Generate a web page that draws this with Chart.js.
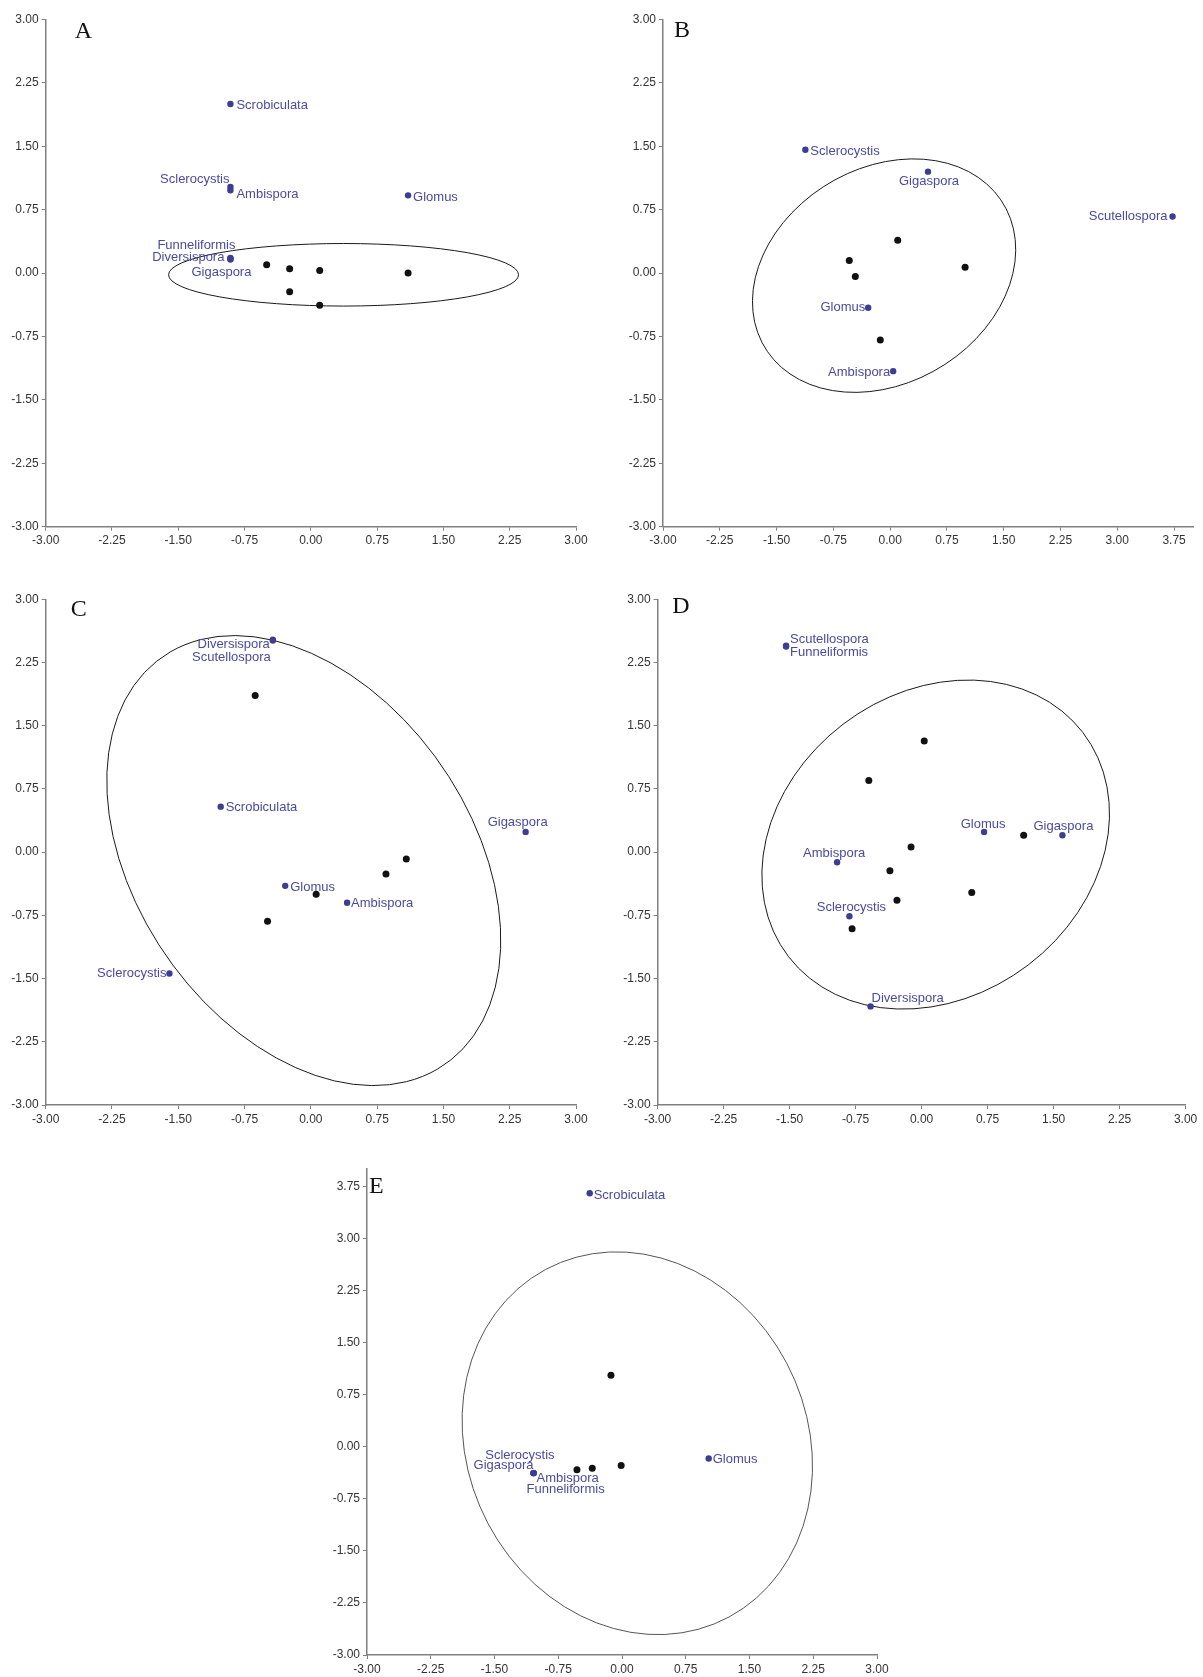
<!DOCTYPE html>
<html>
<head>
<meta charset="utf-8">
<script src="https://cdn.jsdelivr.net/npm/chart.js@4.4.1/dist/chart.umd.min.js"></script>
<style>
  body { margin: 0; background: #fff; }
  #page { position: relative; width: 1203px; height: 1677px; overflow: hidden; }
  canvas { position: absolute; }
</style>
</head>
<body>
<div id="page">
  <canvas id="panelA" width="600" height="570" style="left:0px;top:0px"></canvas>
  <canvas id="panelB" width="603" height="570" style="left:600px;top:0px"></canvas>
  <canvas id="panelC" width="600" height="570" style="left:0px;top:580px"></canvas>
  <canvas id="panelD" width="603" height="570" style="left:600px;top:580px"></canvas>
  <canvas id="panelE" width="600" height="527" style="left:300px;top:1150px"></canvas>
</div>
<script>
// --- tick labels ---
const ticksToThree = [-3, -2.25, -1.5, -0.75, 0, 0.75, 1.5, 2.25, 3];
const ticksToFour = [-3, -2.25, -1.5, -0.75, 0, 0.75, 1.5, 2.25, 3, 3.75];

// --- A ---
const aSiteX = [-0.50, -0.24, 0.10, 1.10, -0.24, 0.10];
const aSiteY = [0.10, 0.05, 0.03, 0.00, -0.22, -0.38];
const aGenus = ['Scrobiculata', 'Sclerocystis', 'Ambispora', 'Glomus', 'Funneliformis', 'Diversispora', 'Gigaspora'];
const aGenusX = [-0.91, -0.91, -0.91, 1.10, -0.91, -0.91, -0.91];
const aGenusY = [2.00, 1.02, 0.98, 0.92, 0.18, 0.17, 0.16];
const aEllipse = [0.37, -0.02, 1.98, 0.37, 0]; // centre x, centre y, semi-axis a, semi-axis b, angle (deg)

// --- B ---
const bSiteX = [0.10, -0.54, -0.46, 0.99, -0.13];
const bSiteY = [0.39, 0.15, -0.04, 0.07, -0.79];
const bGenus = ['Sclerocystis', 'Gigaspora', 'Scutellospora', 'Glomus', 'Ambispora'];
const bGenusX = [-1.12, 0.50, 3.73, -0.29, 0.04];
const bGenusY = [1.46, 1.20, 0.67, -0.41, -1.16];
const bEllipse = [-0.08, -0.03, 1.80, 1.30, 22];

// --- C ---
const cSiteX = [-0.63, 1.08, 0.85, 0.06, -0.49];
const cSiteY = [1.86, -0.08, -0.26, -0.50, -0.82];
const cGenus = ['Diversispora', 'Scutellospora', 'Scrobiculata', 'Gigaspora', 'Glomus', 'Ambispora', 'Sclerocystis'];
const cGenusX = [-0.43, -0.43, -1.02, 2.43, -0.29, 0.41, -1.60];
const cGenusY = [2.52, 2.51, 0.54, 0.24, -0.40, -0.60, -1.44];
const cEllipse = [-0.08, -0.10, 2.90, 1.92, -58.6];

// --- D ---
const dSiteX = [0.03, -0.60, -0.12, -0.36, 1.16, 0.57, -0.28, -0.79];
const dSiteY = [1.32, 0.85, 0.06, -0.22, 0.20, -0.48, -0.57, -0.91];
const dGenus = ['Scutellospora', 'Funneliformis', 'Glomus', 'Gigaspora', 'Ambispora', 'Sclerocystis', 'Diversispora'];
const dGenusX = [-1.54, -1.54, 0.71, 1.60, -0.96, -0.82, -0.58];
const dGenusY = [2.45, 2.44, 0.24, 0.20, -0.12, -0.76, -1.83];
const dEllipse = [0.16, 0.09, 2.14, 1.77, 43.2];

// --- E ---
const eSiteX = [-0.13, -0.53, -0.35, -0.01];
const eSiteY = [1.03, -0.33, -0.31, -0.27];
const eGenus = ['Scrobiculata', 'Glomus', 'Sclerocystis', 'Gigaspora', 'Ambispora', 'Funneliformis'];
const eGenusX = [-0.38, 1.02, -1.04, -1.04, -1.04, -1.04];
const eGenusY = [3.65, -0.17, -0.38, -0.38, -0.38, -0.38];
const eEllipse = [0.18, 0.05, 2.78, 2.03, -79.1];

// label placement (align, dx, dy in px from the dot)
const aLabelPos = [['left', 6, 1], ['right', -1, -7], ['left', 6, 4], ['left', 5, 2], ['right', 5, -12], ['right', -6, -1], ['right', 21, 13]];
const bLabelPos = [['left', 5, 2], ['center', 1, 10], ['right', -5, 0], ['right', -3, 0], ['right', -3, 1]];
const cLabelPos = [['right', -3, 5], ['right', -2, 17], ['left', 5, 1], ['center', -8, -10], ['left', 5, 2], ['left', 4, 1], ['right', -3, 0]];
const dLabelPos = [['left', 4, -6], ['left', 4, 6], ['center', -1, -8], ['center', 1, -9], ['center', -3, -9], ['center', 2, -9], ['left', 1, -8]];
const eLabelPos = [['left', 4, 2], ['left', 4, 1], ['right', 21, -18], ['right', 0, -8], ['left', 3, 5], ['left', -7, 16]];

const FONT = '"Liberation Sans", Arial, sans-serif';
const AXIS_COLOR = '#808080';
const GENUS_COLOR = '#3d3d92';
const LABEL_COLOR = '#4a4aa0';

const toPoints = (xs, ys) => xs.map((x, i) => ({ x: x, y: ys[i] }));

// ellipse, genus labels and panel letter
const panelDecor = {
    id: 'panelDecor',
    beforeDatasetsDraw(chart, args, opts) {
        const { ctx, scales: { x, y } } = chart;
        const [cx, cy, a, b, deg] = opts.ellipse;
        const sx = x.getPixelForValue(1) - x.getPixelForValue(0);
        const sy = y.getPixelForValue(0) - y.getPixelForValue(1);
        ctx.save();
        ctx.translate(x.getPixelForValue(cx), y.getPixelForValue(cy));
        ctx.scale(sx, -sy);
        ctx.rotate(deg * Math.PI / 180);
        ctx.beginPath();
        ctx.ellipse(0, 0, a, b, 0, 0, Math.PI * 2);
        ctx.restore();
        ctx.save();
        ctx.strokeStyle = opts.ellipseColor;
        ctx.lineWidth = 1;
        ctx.stroke();
        ctx.restore();
    },
    afterDatasetsDraw(chart, args, opts) {
        const { ctx, scales: { x, y }, chartArea } = chart;
        ctx.save();
        ctx.font = '13px ' + FONT;
        ctx.fillStyle = LABEL_COLOR;
        ctx.textBaseline = 'middle';
        opts.names.forEach((name, i) => {
            const [align, dx, dy] = opts.labelPos[i];
            ctx.textAlign = align;
            ctx.fillText(name, x.getPixelForValue(opts.xs[i]) + dx, y.getPixelForValue(opts.ys[i]) + dy);
        });
        ctx.font = '24px "Liberation Serif", "Times New Roman", serif';
        ctx.fillStyle = '#111';
        ctx.textAlign = 'left';
        ctx.textBaseline = 'alphabetic';
        ctx.fillText(opts.letter, chartArea.left + opts.letterAt[0], chartArea.top + opts.letterAt[1]);
        ctx.restore();
    }
};

function axis(min, max, tickValues, size, horizontal) {
    return {
        type: 'linear',
        min: min,
        max: max,
        afterBuildTicks: s => { s.ticks = tickValues.map(v => ({ value: v })); },
        afterFit: s => { if (horizontal) s.height = size; else s.width = size; },
        border: { display: true, color: AXIS_COLOR, width: 1.5 },
        grid: { display: true, drawOnChartArea: false, drawTicks: true, tickLength: 4, color: AXIS_COLOR, lineWidth: 1 },
        ticks: {
            color: '#333',
            font: { family: FONT, size: 12 },
            padding: 3,
            maxRotation: 0,
            autoSkip: false,
            callback: v => Number(v).toFixed(2)
        }
    };
}

function makePanel(p) {
    new Chart(document.getElementById(p.id), {
        type: 'scatter',
        data: {
            datasets: [{
                label: 'sites',
                data: toPoints(p.siteX, p.siteY),
                backgroundColor: '#111',
                borderWidth: 0,
                pointRadius: 3.5
            }, {
                label: 'genera',
                data: toPoints(p.genusX, p.genusY),
                backgroundColor: GENUS_COLOR,
                borderWidth: 0,
                pointRadius: 3.2
            }]
        },
        options: {
            responsive: false,
            animation: false,
            layout: { padding: { top: p.padTop, right: p.padRight, bottom: 0, left: 0 } },
            scales: {
                x: axis(-3, p.xMax, p.xTicks, p.xAxisH, true),
                y: axis(-3, p.yMax, p.yTicks, p.yAxisW, false)
            },
            plugins: {
                legend: { display: false },
                tooltip: { enabled: false },
                panelDecor: {
                    ellipse: p.ellipse,
                    ellipseColor: p.ellipseColor || '#1a1a1a',
                    names: p.names,
                    xs: p.genusX,
                    ys: p.genusY,
                    labelPos: p.labelPos,
                    letter: p.letter,
                    letterAt: p.letterAt
                }
            }
        },
        plugins: [panelDecor]
    });
}

makePanel({ id: 'panelA', letter: 'A', siteX: aSiteX, siteY: aSiteY, names: aGenus, genusX: aGenusX, genusY: aGenusY,
    ellipse: aEllipse, labelPos: aLabelPos, xMax: 3, yMax: 3, xTicks: ticksToThree, yTicks: ticksToThree,
    yAxisW: 45.7, xAxisH: 43.3, padTop: 19.5, padRight: 24, letterAt: [29, 18] });

makePanel({ id: 'panelB', letter: 'B', siteX: bSiteX, siteY: bSiteY, names: bGenus, genusX: bGenusX, genusY: bGenusY,
    ellipse: bEllipse, labelPos: bLabelPos, xMax: 4, yMax: 3, xTicks: ticksToFour, yTicks: ticksToThree,
    yAxisW: 63, xAxisH: 43.3, padTop: 19.5, padRight: 10, letterAt: [11, 17] });

makePanel({ id: 'panelC', letter: 'C', siteX: cSiteX, siteY: cSiteY, names: cGenus, genusX: cGenusX, genusY: cGenusY,
    ellipse: cEllipse, labelPos: cLabelPos, xMax: 3, yMax: 3, xTicks: ticksToThree, yTicks: ticksToThree,
    yAxisW: 45.7, xAxisH: 45, padTop: 19.3, padRight: 24, letterAt: [25, 16.5] });

makePanel({ id: 'panelD', letter: 'D', siteX: dSiteX, siteY: dSiteY, names: dGenus, genusX: dGenusX, genusY: dGenusY,
    ellipse: dEllipse, labelPos: dLabelPos, xMax: 3, yMax: 3, xTicks: ticksToThree, yTicks: ticksToThree,
    yAxisW: 57.6, xAxisH: 45, padTop: 19.3, padRight: 17.4, letterAt: [14.6, 14] });

makePanel({ id: 'panelE', letter: 'E', siteX: eSiteX, siteY: eSiteY, names: eGenus, genusX: eGenusX, genusY: eGenusY,
    ellipse: eEllipse, ellipseColor: '#555', labelPos: eLabelPos, xMax: 3, yMax: 4, xTicks: ticksToThree, yTicks: ticksToFour,
    yAxisW: 67, xAxisH: 22, padTop: 19, padRight: 23, letterAt: [2, 24] });
</script>
</body>
</html>
